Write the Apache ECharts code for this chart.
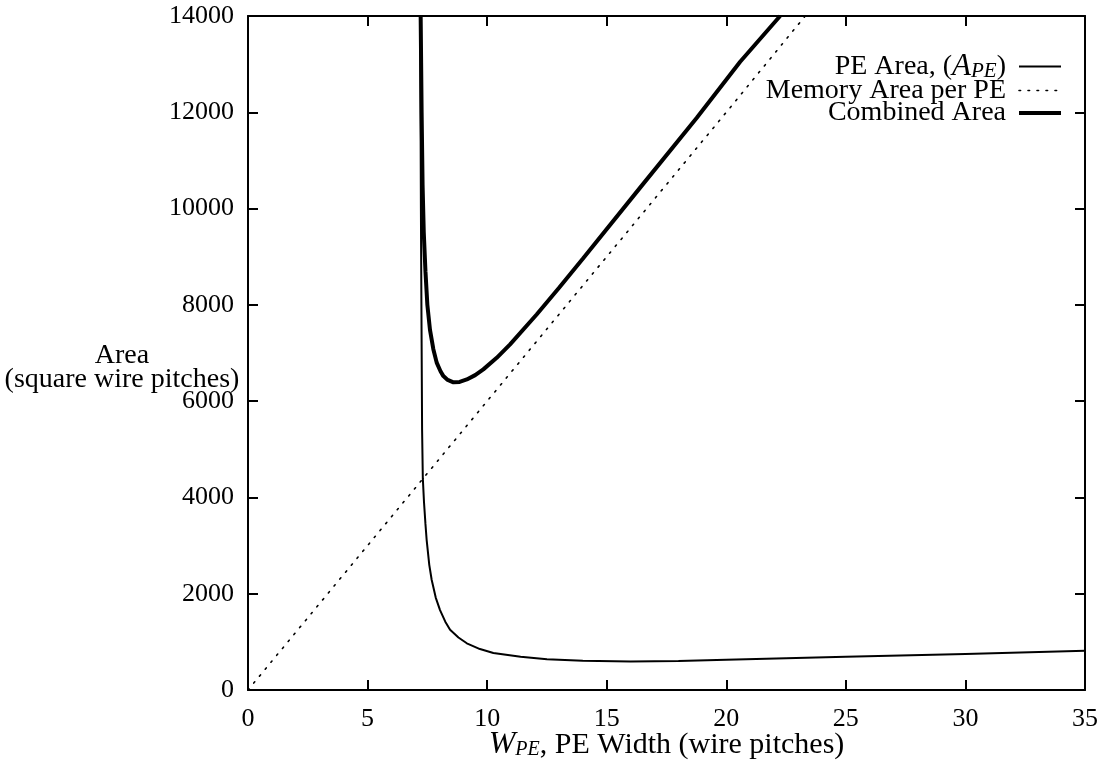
<!DOCTYPE html>
<html>
<head>
<meta charset="utf-8">
<script src="https://cdn.jsdelivr.net/npm/echarts@6/dist/echarts.min.js"></script>
<style>html,body{margin:0;padding:0;background:#fff;}#c{width:1103px;height:764px;}</style>
</head>
<body>
<div id="c"></div>
<script>
// ---- data ----
var xTicks = [0, 5, 10, 15, 20, 25, 30, 35];
var yTicks = [0, 2000, 4000, 6000, 8000, 10000, 12000, 14000];

var peX = [7.20, 7.23, 7.26, 7.28, 7.31, 7.36, 7.42, 7.47, 7.58, 7.68, 7.85, 8.03, 8.25, 8.45, 8.80, 9.15, 9.70, 10.26, 11.4, 12.5, 14.0, 16.0, 18.0, 20.0, 22.5, 25.0, 30.0, 35.0];
var peY = [14000, 10000, 7200, 5400, 4400, 3900, 3450, 3120, 2600, 2290, 1920, 1660, 1420, 1250, 1090, 970, 850, 770, 690, 640, 605, 590, 600, 630, 660, 690, 750, 815];

var memX = [0, 5, 10, 15, 20, 23.3];
var memY = [0, 3000, 6000, 9000, 12000, 14000];

var combX = [7.22, 7.26, 7.30, 7.35, 7.42, 7.50, 7.61, 7.75, 7.89, 8.05, 8.17, 8.35, 8.59, 8.85, 9.15, 9.50, 9.84, 10.4, 10.96, 12.07, 13.0, 14.0, 16.39, 18.76, 20.58, 22.25];
var combY = [14000, 12000, 10500, 9500, 8700, 8000, 7480, 7080, 6800, 6620, 6520, 6440, 6390, 6400, 6450, 6540, 6660, 6900, 7180, 7800, 8350, 8960, 10430, 11880, 13050, 14000];

var legendNames = ['PE Area', 'Memory Area per PE', 'Combined Area'];

function zip(xs, ys) { return xs.map(function (x, i) { return [x, ys[i]]; }); }

var FONT = 'Liberation Serif';
var FS = 26;   // tick labels
var TS = 28;   // text labels
var NS = 30;   // x-axis title

var chart = echarts.init(document.getElementById('c'), null, {renderer: 'canvas'});

function axisCommon(extra) {
  return Object.assign({
    type: 'value',
    axisLine: {show: true, onZero: false, lineStyle: {color: '#000', width: 2}},
    axisTick: {show: true, inside: true, length: 10, lineStyle: {color: '#000', width: 2}},
    splitLine: {show: false}
  }, extra);
}

var plainNum = function (v) { return String(v); };

var lineStyles = [
  {color: '#000', width: 2},
  {color: '#000', width: 1.6, type: [1.6, 7.4], cap: 'round'},
  {color: '#000', width: 4}
];

var option = {
  backgroundColor: '#fff',
  animation: false,
  grid: {left: 248, right: 18, top: 16, bottom: 74, containLabel: false, outerBoundsMode: 'none'},
  xAxis: [
    axisCommon({
      position: 'bottom', min: xTicks[0], max: xTicks[xTicks.length - 1], interval: 5,
      axisLabel: {color: '#000', fontFamily: FONT, fontSize: FS, margin: 16, formatter: plainNum},
      name: '{i|W}{sub|PE}{t|, PE Width (wire pitches)}',
      nameLocation: 'middle', nameGap: 40, nameMoveOverlap: false,
      nameTextStyle: {
        color: '#000', fontFamily: FONT, fontSize: NS,
        rich: {
          i: {fontFamily: FONT, fontStyle: 'italic', fontSize: 32, color: '#000', lineHeight: 30, verticalAlign: 'middle'},
          sub: {fontFamily: FONT, fontStyle: 'italic', fontSize: 20, color: '#000', lineHeight: 30, verticalAlign: 'bottom'},
          t: {fontFamily: FONT, fontSize: NS, color: '#000', lineHeight: 30, verticalAlign: 'middle'}
        }
      }
    }),
    axisCommon({
      position: 'top', min: xTicks[0], max: xTicks[xTicks.length - 1], interval: 5,
      axisLabel: {show: false}
    })
  ],
  yAxis: [
    axisCommon({
      position: 'left', min: yTicks[0], max: yTicks[yTicks.length - 1], interval: 2000,
      axisLabel: {color: '#000', fontFamily: FONT, fontSize: FS, margin: 14, formatter: plainNum}
    }),
    axisCommon({
      position: 'right', min: yTicks[0], max: yTicks[yTicks.length - 1], interval: 2000,
      axisLabel: {show: false}
    })
  ],
  graphic: [
    {type: 'text', x: 122, y: 356,
     style: {text: 'Area', font: TS + 'px "' + FONT + '"', fill: '#000', align: 'center', verticalAlign: 'middle'}},
    {type: 'text', x: 122, y: 380,
     style: {text: '(square wire pitches)', font: TS + 'px "' + FONT + '"', fill: '#000', align: 'center', verticalAlign: 'middle'}}
  ],
  legend: {
    orient: 'vertical', right: 35, top: 46, align: 'right',
    itemWidth: 42, itemHeight: 23, itemGap: -5.5,
    itemStyle: {opacity: 0},
    textStyle: {
      color: '#000', fontFamily: FONT, fontSize: TS, padding: [0, 8, 0, 0],
      rich: {
        i: {fontFamily: FONT, fontStyle: 'italic', fontSize: 31, color: '#000', verticalAlign: 'middle'},
        sub: {fontFamily: FONT, fontStyle: 'italic', fontSize: 21, color: '#000', verticalAlign: 'bottom'}
      }
    },
    formatter: function (name) {
      if (name === legendNames[0]) return 'PE Area, ({i|A}{sub|PE})';
      return name;
    },
    data: legendNames.map(function (n, i) { return {name: n, lineStyle: lineStyles[i]}; })
  },
  series: [
    {
      name: legendNames[0], type: 'line', data: zip(peX, peY), showSymbol: false, symbol: 'none',
      lineStyle: lineStyles[0], itemStyle: {color: '#000'}, clip: true
    },
    {
      name: legendNames[1], type: 'line', data: zip(memX, memY), showSymbol: false, symbol: 'none',
      lineStyle: lineStyles[1], itemStyle: {color: '#000'}, clip: true
    },
    {
      name: legendNames[2], type: 'line', data: zip(combX, combY), showSymbol: false, symbol: 'none',
      lineStyle: lineStyles[2], itemStyle: {color: '#000'}, clip: true
    }
  ]
};
chart.setOption(option);
</script>
</body>
</html>
